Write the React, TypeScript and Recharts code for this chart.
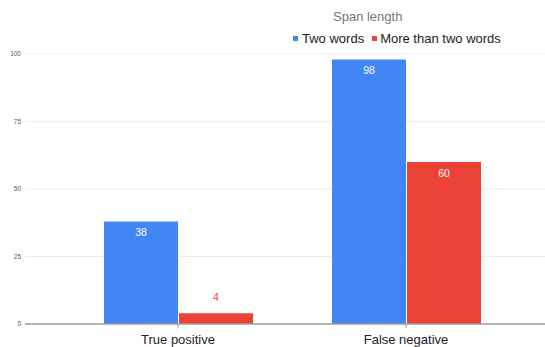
import React from 'react';
import { BarChart, Bar, XAxis, YAxis, CartesianGrid, LabelList } from 'recharts';

const categories = ['True positive', 'False negative'];
const twoWords = [38, 98];
const moreThanTwo = [4, 60];
const yTicks = [0, 25, 50, 75, 100];

const BLUE = '#4285F4';
const RED = '#EA4335';
const FONT = '"Liberation Sans", Arial, sans-serif';

const chartData = categories.map((name, i) => ({
  name,
  two: twoWords[i],
  more: moreThanTwo[i],
}));

const makeLabel = (color: string) => (props: any) => {
  const { x, y, width, height, value } = props;
  const inside = height > 22;
  return (
    <text
      x={x + width / 2}
      y={inside ? y + 11 : y - 16}
      textAnchor="middle"
      dominantBaseline="central"
      fill={inside ? '#ffffff' : color}
      fontSize={10.5}
      fontFamily={FONT}
    >
      {value}
    </text>
  );
};

const App: React.FC = () => {
  return (
    <div style={{ position: 'absolute', top: 0, left: 0, width: 545, height: 347, background: '#fff', fontFamily: FONT }}>
      <span style={{ position: 'absolute', left: 333, top: 9, fontSize: 13, color: '#757575', whiteSpace: 'nowrap' }}>
        Span length
      </span>
      <div style={{ position: 'absolute', top: 31, left: 293, display: 'flex', alignItems: 'center', fontSize: 13, color: '#222', whiteSpace: 'nowrap' }}>
        <span style={{ display: 'inline-block', width: 5, height: 5, background: BLUE, marginRight: 4 }} />
        <span style={{ marginRight: 8 }}>Two words</span>
        <span style={{ display: 'inline-block', width: 5, height: 5, background: RED, marginRight: 3 }} />
        <span>More than two words</span>
      </div>
      <BarChart
        width={545}
        height={347}
        data={chartData}
        margin={{ top: 54, right: 0, bottom: 0, left: 0 }}
        barCategoryGap={40}
        barGap={1}
      >
        <CartesianGrid vertical={false} stroke="#ebebeb" />
        <XAxis
          dataKey="name"
          height={23}
          padding={{ left: 39, right: 25 }}
          axisLine={{ stroke: '#9e9e9e', strokeWidth: 1.5 }}
          tickLine={{ stroke: '#9e9e9e' }}
          tickSize={4}
          tickMargin={7}
          tick={{ fill: '#222', fontSize: 13, fontFamily: FONT }}
        />
        <YAxis
          width={25}
          domain={[0, 100]}
          ticks={yTicks}
          axisLine={false}
          tickLine={false}
          tickSize={0}
          tickMargin={4}
          tick={{ fill: '#555', fontSize: 6.5, fontFamily: FONT }}
        />
        <Bar dataKey="two" fill={BLUE} isAnimationActive={false}>
          <LabelList dataKey="two" content={makeLabel(BLUE)} />
        </Bar>
        <Bar dataKey="more" fill={RED} isAnimationActive={false}>
          <LabelList dataKey="more" content={makeLabel(RED)} />
        </Bar>
      </BarChart>
    </div>
  );
};

export default App;
